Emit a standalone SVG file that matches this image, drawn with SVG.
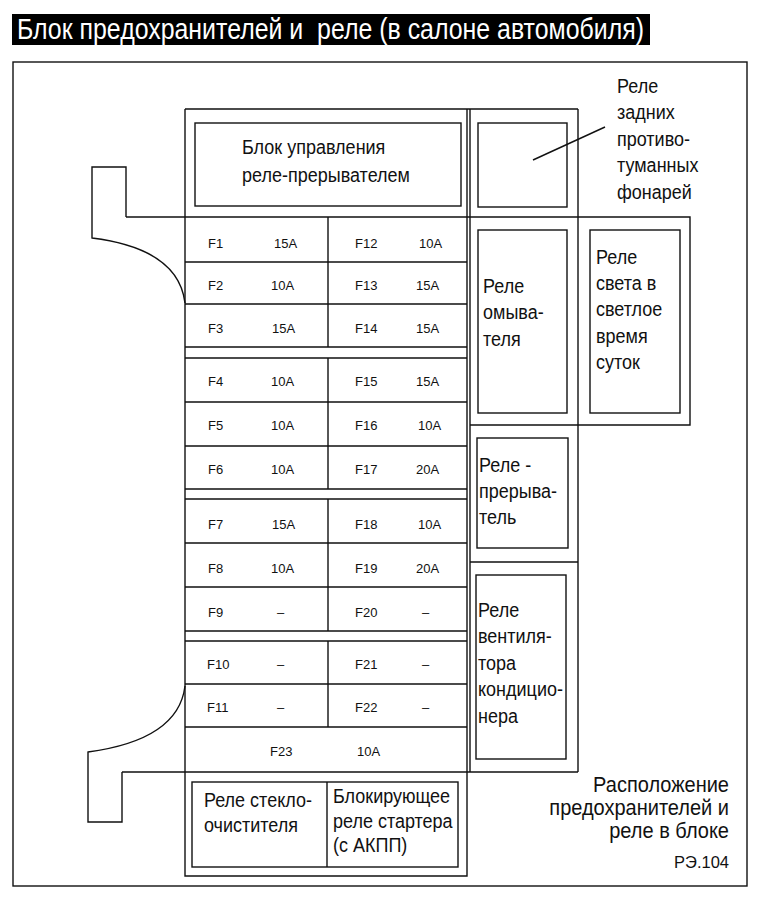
<svg xmlns="http://www.w3.org/2000/svg" width="766" height="901" viewBox="0 0 766 901">
<style>
.ln{fill:none;stroke:#111;stroke-width:1.4}
.bx{fill:none;stroke:#111;stroke-width:1.4}
.fz{font-family:"Liberation Sans",Arial,sans-serif;font-size:13px;fill:#111}
.lb{font-family:"Liberation Sans",Arial,sans-serif;font-size:18px;fill:#111}
.cap{font-family:"Liberation Sans",Arial,sans-serif;font-size:20px;fill:#111;text-anchor:end}
.ttl{font-family:"Liberation Sans",Arial,sans-serif;font-size:28px;fill:#fff}
</style>
<rect width="766" height="901" fill="#fff"/>
<g id="title">
<rect x="12" y="14" width="638" height="31" fill="#000"/>
<text class="ttl" transform="translate(17,39) scale(1,1.08)" x="0" y="0" textLength="627" lengthAdjust="spacingAndGlyphs" xml:space="preserve">Блок предохранителей и  реле (в салоне автомобиля)</text>
</g>
<g id="frame">
<rect class="bx" x="13" y="62" width="734" height="824"/>
</g>
<g id="housing">
<path class="ln" d="M185,303 C180,262 140,244 92,238 L92,167 L126,167 L126,217"/>
<path class="ln" d="M185,686 C180,727 140,745 88,752 L88,822 L122,822 L122,772"/>
<path class="ln" d="M185,109 H578 M185,109 V876 H467 V109 M470,109 V772 M578,109 V772 M126,217 H690 V425 H470 M470,562 H578 M122,772 H578"/>
</g>
<g id="control-unit">
<rect class="bx" x="195" y="123" width="266" height="83"/>
<text class="lb" transform="translate(242,154) scale(1,1.12)"><tspan x="0" y="0">Блок управления</tspan><tspan x="0" dy="24.7">реле-прерывателем</tspan></text>
</g>
<g id="fuse-grid">
<path class="ln" d="M185,262 H467 M185,304 H467 M185,347 H467 M185,358 H467 M185,402 H467 M185,446 H467 M185,489 H467 M185,499 H467 M185,543 H467 M185,587 H467 M185,631 H467 M185,641 H467 M185,684 H467 M185,727 H467 M328,217 V347 M328,358 V489 M328,499 V631 M328,641 V727"/>
</g>
<g id="F1"><text class="fz" x="208" y="247.5">F1</text><text class="fz" x="274" y="247.5">15A</text></g>
<g id="F12"><text class="fz" x="355" y="247.5">F12</text><text class="fz" x="419" y="247.5">10A</text></g>
<g id="F2"><text class="fz" x="208" y="290">F2</text><text class="fz" x="271" y="290">10A</text></g>
<g id="F13"><text class="fz" x="355" y="290">F13</text><text class="fz" x="416" y="290">15A</text></g>
<g id="F3"><text class="fz" x="208" y="333">F3</text><text class="fz" x="272" y="333">15A</text></g>
<g id="F14"><text class="fz" x="355" y="333">F14</text><text class="fz" x="416" y="333">15A</text></g>
<g id="F4"><text class="fz" x="208" y="386">F4</text><text class="fz" x="271" y="386">10A</text></g>
<g id="F15"><text class="fz" x="355" y="386">F15</text><text class="fz" x="416" y="386">15A</text></g>
<g id="F5"><text class="fz" x="208" y="430">F5</text><text class="fz" x="271" y="430">10A</text></g>
<g id="F16"><text class="fz" x="355" y="430">F16</text><text class="fz" x="418" y="430">10A</text></g>
<g id="F6"><text class="fz" x="208" y="474">F6</text><text class="fz" x="271" y="474">10A</text></g>
<g id="F17"><text class="fz" x="355" y="474">F17</text><text class="fz" x="416" y="474">20A</text></g>
<g id="F7"><text class="fz" x="208" y="529">F7</text><text class="fz" x="272" y="529">15A</text></g>
<g id="F18"><text class="fz" x="355" y="529">F18</text><text class="fz" x="418" y="529">10A</text></g>
<g id="F8"><text class="fz" x="208" y="572.5">F8</text><text class="fz" x="271" y="572.5">10A</text></g>
<g id="F19"><text class="fz" x="355" y="572.5">F19</text><text class="fz" x="416" y="572.5">20A</text></g>
<g id="F9"><text class="fz" x="208" y="616.5">F9</text><text class="fz" x="277" y="616.5">–</text></g>
<g id="F20"><text class="fz" x="355" y="616.5">F20</text><text class="fz" x="422" y="616.5">–</text></g>
<g id="F10"><text class="fz" x="207" y="669">F10</text><text class="fz" x="277" y="669">–</text></g>
<g id="F21"><text class="fz" x="355" y="669">F21</text><text class="fz" x="422" y="669">–</text></g>
<g id="F11"><text class="fz" x="207" y="712">F11</text><text class="fz" x="277" y="712">–</text></g>
<g id="F22"><text class="fz" x="355" y="712">F22</text><text class="fz" x="422" y="712">–</text></g>
<g id="F23"><text class="fz" x="270" y="755.5">F23</text><text class="fz" x="357" y="755.5">10A</text></g>
<g id="relay-fog">
<rect class="bx" x="478" y="123" width="89" height="84"/>
</g>
<g id="relay-washer">
<rect class="bx" x="478" y="230" width="89" height="183"/>
<text class="lb" transform="translate(483,293) scale(1,1.12)"><tspan x="0" y="0">Реле</tspan><tspan x="0" dy="23.6">омыва-</tspan><tspan x="0" dy="23.6">теля</tspan></text>
</g>
<g id="relay-daylight">
<rect class="bx" x="590" y="230" width="90" height="183"/>
<text class="lb" transform="translate(596,263.5) scale(1,1.12)"><tspan x="0" y="0">Реле</tspan><tspan x="0" dy="23.6">света в</tspan><tspan x="0" dy="23.6">светлое</tspan><tspan x="0" dy="23.6">время</tspan><tspan x="0" dy="23.6">суток</tspan></text>
</g>
<g id="relay-breaker">
<rect class="bx" x="477" y="438" width="91" height="110"/>
<text class="lb" transform="translate(479,471.5) scale(1,1.12)"><tspan x="0" y="0">Реле -</tspan><tspan x="0" dy="23.6">прерыва-</tspan><tspan x="0" dy="23.6">тель</tspan></text>
</g>
<g id="relay-ac-fan">
<rect class="bx" x="476" y="575" width="90" height="184"/>
<text class="lb" transform="translate(478,617) scale(1,1.12)"><tspan x="0" y="0">Реле</tspan><tspan x="0" dy="23.6">вентиля-</tspan><tspan x="0" dy="23.6">тора</tspan><tspan x="0" dy="23.6">кондицио-</tspan><tspan x="0" dy="23.6">нера</tspan></text>
</g>
<g id="relay-wiper">
<rect class="bx" x="192" y="782" width="266" height="85"/>
<line class="ln" x1="327" y1="782" x2="327" y2="867"/>
<text class="lb" transform="translate(204,807) scale(1,1.1)"><tspan x="0" y="0">Реле стекло-</tspan><tspan x="0" dy="22.7">очистителя</tspan></text>
</g>
<g id="relay-starter">
<text class="lb" transform="translate(333,803) scale(1,1.1)"><tspan x="0" y="0">Блокирующее</tspan><tspan x="0" dy="22.3">реле стартера</tspan><tspan x="0" dy="22.3">(с АКПП)</tspan></text>
</g>
<g id="fog-label">
<text class="lb" transform="translate(617,93) scale(1,1.12)"><tspan x="0" y="0">Реле</tspan><tspan x="0" dy="23.6">задних</tspan><tspan x="0" dy="23.6">противо-</tspan><tspan x="0" dy="23.6">туманных</tspan><tspan x="0" dy="23.6">фонарей</tspan></text>
</g>
<g id="connectors">
<line class="ln" x1="533" y1="160" x2="605" y2="127"/>
</g>
<g id="caption">
<text class="cap" transform="translate(729,792) scale(1,1.1)"><tspan x="0" y="0">Расположение</tspan><tspan x="0" dy="21">предохранителей и</tspan><tspan x="0" dy="21">реле в блоке</tspan></text>
<text class="cap" style="font-size:16.5px" x="729" y="868">РЭ.104</text>
</g>
</svg>
